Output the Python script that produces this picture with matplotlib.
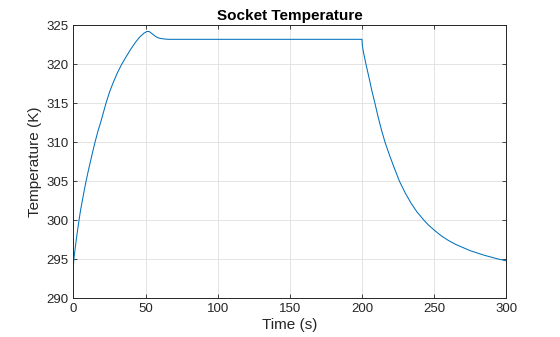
import matplotlib
matplotlib.use('Agg')
import matplotlib.pyplot as plt

# readings taken off the reference curve
t_heat = [0, 0.3, 1, 2, 3, 3.9, 5, 6.3, 7.5, 8.8, 10.3, 11.8, 13.3, 15, 17, 19,
          20.8, 22.6, 25, 27.5, 30.5, 33.5, 37, 40, 43, 46, 49, 51, 52.5, 54,
          56, 58, 60, 63, 66, 70]
T_heat = [294.0, 295.0, 296.0, 297.5, 298.8, 300.0, 301.3, 302.6, 303.8, 305.0,
          306.3, 307.5, 308.7, 310.0, 311.4, 312.6, 313.8, 315.0, 316.4, 317.6,
          318.9, 320.0, 321.1, 322.0, 322.8, 323.5, 324.0, 324.2, 324.2, 324.0,
          323.7, 323.45, 323.32, 323.24, 323.2, 323.2]

t_cool = [200, 200.3, 201, 202, 202.8, 205, 207, 209, 211, 213.5, 216, 219, 222,
          226, 230, 234, 238, 243, 246, 250, 255, 260, 265, 270, 275, 280, 285,
          290, 295, 300]
T_cool = [323.2, 322.4, 321.6, 320.7, 320.0, 318.2, 316.5, 315.0, 313.4, 311.6,
          310.0, 308.4, 306.9, 305.0, 303.5, 302.2, 301.1, 300.0, 299.4, 298.75,
          298.0, 297.4, 296.9, 296.5, 296.1, 295.8, 295.5, 295.25, 295.0, 294.8]

time = t_heat + t_cool
temp = T_heat + T_cool

plt.rcParams['font.family'] = ['Liberation Sans', 'DejaVu Sans']

fig = plt.figure(figsize=(5.6, 3.37), dpi=100)
ax = fig.add_axes([0.131, 0.115, 0.773, 0.81])
ax.plot(time, temp, color='#0072BD', lw=0.75)

ax.set_xlim(0, 300)
ax.set_ylim(290, 325)
ax.set_xticks(range(0, 301, 50))
ax.set_yticks(range(290, 326, 5))
ax.grid(True, color='#DFDFDF', lw=0.6)
ax.set_axisbelow(True)
ax.tick_params(direction='in', top=True, right=True, length=3, width=0.6,
               labelsize=9.5, colors='#262626')
for s in ax.spines.values():
    s.set_color('#262626')
    s.set_linewidth(0.7)

ax.set_title('Socket Temperature', fontsize=11, fontweight='bold', color='black', pad=4)
ax.set_xlabel('Time (s)', fontsize=11, color='#262626', labelpad=2)
ax.set_ylabel('Temperature (K)', fontsize=11, color='#262626', labelpad=3)

fig.savefig('out.png', dpi=100)
